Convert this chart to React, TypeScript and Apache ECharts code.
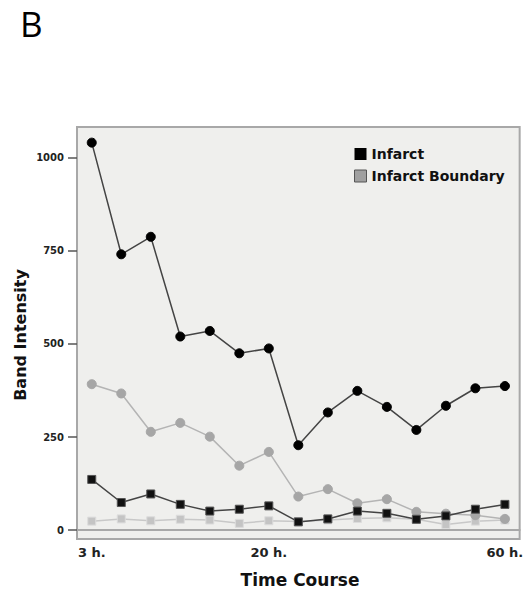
import React, { useEffect, useRef } from "react";
import * as echarts from "echarts";

const categories = ["3 h.", "6 h.", "9 h.", "12 h.", "15 h.", "18 h.", "20 h.", "24 h.", "28 h.", "32 h.", "36 h.", "42 h.", "48 h.", "54 h.", "60 h."];
const labeledTicks = ["3 h.", "20 h.", "60 h."];
const yTickValues = [0, 250, 500, 750, 1000];

const infarct = [1041, 741, 788, 520, 535, 475, 488, 228, 316, 374, 331, 269, 334, 381, 387];
const infarctBoundary = [392, 367, 264, 288, 251, 173, 210, 90, 110, 72, 83, 49, 44, 40, 30];
const infarctLow = [136, 74, 97, 69, 51, 56, 65, 22, 30, 51, 45, 29, 38, 56, 69];
const boundaryLow = [24, 30, 25, 29, 27, 18, 25, 23, 27, 31, 33, 29, 15, 24, 27];

const BOLD = "DejaVu Sans";

export default function App() {
  const ref = useRef<HTMLDivElement>(null);
  useEffect(() => {
    if (!ref.current) return;
    const chart = echarts.init(ref.current, null, { renderer: "svg" });
    chart.setOption({
      animation: false,
      backgroundColor: "#ffffff",
      grid: {
        left: 77,
        top: 127,
        right: -3,
        bottom: 52,
        show: true,
        backgroundColor: "#efefed",
        borderColor: "#a8a8a8",
        borderWidth: 2,
      },
      legend: {
        orient: "vertical",
        left: 349,
        top: 142,
        itemWidth: 12,
        itemHeight: 12,
        itemGap: 8,
        icon: "rect",
        textStyle: { fontFamily: BOLD, fontWeight: "bold", fontSize: 14, color: "#111" },
        data: [
          { name: "Infarct", itemStyle: { color: "#000000" } },
          { name: "Infarct Boundary", itemStyle: { color: "#a0a0a0", borderColor: "#555", borderWidth: 1 } },
        ],
      },
      xAxis: {
        type: "category",
        data: categories,
        boundaryGap: true,
        axisLine: { show: true, lineStyle: { color: "#a8a8a8", width: 2 } },
        axisTick: { show: false },
        axisLabel: {
          interval: (_i: number, v: string) => labeledTicks.includes(v),
          fontFamily: BOLD,
          fontWeight: "bold",
          fontSize: 13,
          color: "#222",
          margin: 7,
        },
        splitLine: { show: false },
      },
      yAxis: {
        type: "value",
        min: -24,
        max: 1083,
        axisLine: { show: true, lineStyle: { color: "#a8a8a8", width: 2 } },
        axisTick: {
          show: true,
          customValues: yTickValues,
          length: 9,
          lineStyle: { color: "#555", width: 1.5 },
        },
        axisLabel: {
          customValues: yTickValues,
          formatter: (v: number) => String(v),
          fontFamily: BOLD,
          fontWeight: "bold",
          fontSize: 10,
          color: "#222",
          margin: 13,
        },
        splitLine: { show: false },
      },
      graphic: [
        {
          type: "text",
          left: 20,
          top: 6,
          style: { text: "B", fontFamily: "Open Sans", fontSize: 35, fill: "#000" },
        },
        {
          type: "text",
          x: 20,
          y: 335,
          rotation: Math.PI / 2,
          style: {
            text: "Band Intensity",
            fontFamily: BOLD,
            fontWeight: "bold",
            fontSize: 16,
            fill: "#111",
            align: "center",
            verticalAlign: "middle",
          },
        },
        {
          type: "text",
          x: 300,
          y: 580,
          style: {
            text: "Time Course",
            fontFamily: BOLD,
            fontWeight: "bold",
            fontSize: 17,
            fill: "#111",
            align: "center",
            verticalAlign: "middle",
          },
        },
      ],
      series: [
        {
          name: "Boundary (lower band)",
          type: "line",
          data: boundaryLow,
          symbol: "rect",
          symbolSize: 8,
          itemStyle: { color: "#c4c4c4", borderColor: "#dcdcdc", borderWidth: 1 },
          lineStyle: { color: "#c8c8c8", width: 1.5 },
          z: 2,
        },
        {
          name: "Infarct Boundary",
          type: "line",
          data: infarctBoundary,
          symbol: "circle",
          symbolSize: 9,
          itemStyle: { color: "#a6a6a6", borderColor: "#a6a6a6" },
          lineStyle: { color: "#b4b4b4", width: 1.5 },
          z: 3,
        },
        {
          name: "Infarct (lower band)",
          type: "line",
          data: infarctLow,
          symbol: "rect",
          symbolSize: 8,
          itemStyle: { color: "#111", borderColor: "#555", borderWidth: 1 },
          lineStyle: { color: "#444", width: 1.5 },
          z: 4,
        },
        {
          name: "Infarct",
          type: "line",
          data: infarct,
          symbol: "circle",
          symbolSize: 9,
          itemStyle: { color: "#000", borderColor: "#000" },
          lineStyle: { color: "#444", width: 1.5 },
          z: 5,
        },
      ],
    });
    return () => chart.dispose();
  }, []);
  return <div ref={ref} style={{ width: 526, height: 591, position: "absolute", left: 0, top: 0 }} />;
}
